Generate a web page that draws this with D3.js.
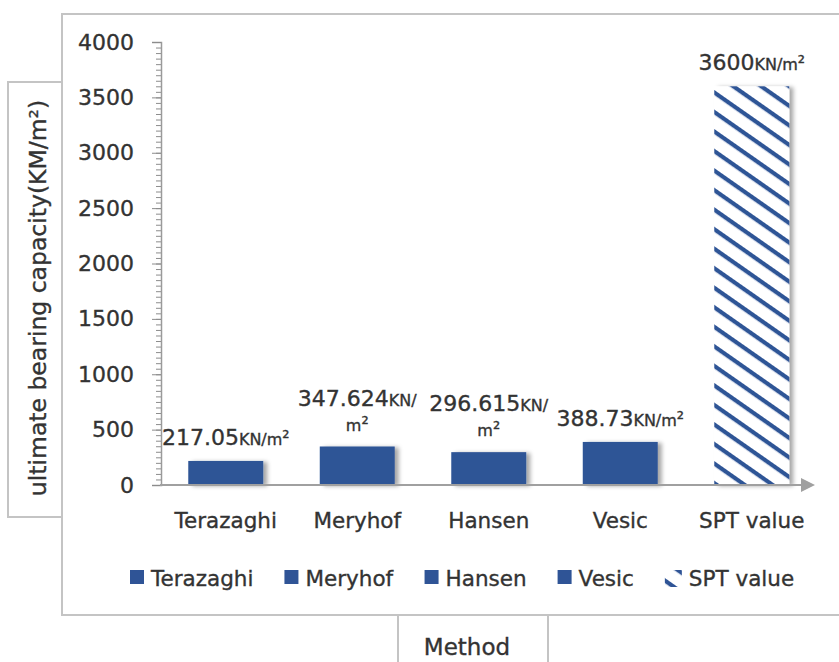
<!DOCTYPE html>
<html>
<head>
<meta charset="utf-8">
<script src="https://cdn.jsdelivr.net/npm/d3@7"></script>
<style>
  body { margin: 0; background: #fff; }
  text { font-family: "DejaVu Sans", sans-serif; fill: #333; stroke: #333; stroke-width: 0.35px; }
</style>
</head>
<body>
<svg id="drawing_region"></svg>
<script>
// chart data
const methods = ['Terazaghi', 'Meryhof', 'Hansen', 'Vesic', 'SPT value'];
const capacity = [217.05, 347.624, 296.615, 388.73, 3600];
const valueLabels = ['217.05', '347.624', '296.615', '388.73', '3600'];
const yTicks = [0, 500, 1000, 1500, 2000, 2500, 3000, 3500, 4000];
const unitText = 'KN/m';

const data = methods.map((m, i) => ({ method: m, value: capacity[i], label: valueLabels[i], hatched: m === 'SPT value' }));

const W = 839, H = 662;
const svg = d3.select('#drawing_region').attr('width', W).attr('height', H);
const defs = svg.append('defs');

// diagonal hatch for the SPT bar
const pat = defs.append('pattern')
    .attr('id', 'hatch')
    .attr('patternUnits', 'userSpaceOnUse')
    .attr('width', 16).attr('height', 16)
    .attr('patternTransform', 'rotate(35)');
pat.append('rect').attr('width', 16).attr('height', 16).attr('fill', '#fff');
pat.append('rect').attr('x', 0).attr('y', 0).attr('width', 16).attr('height', 4.2).attr('fill', '#2f5496');

const shadow = defs.append('filter').attr('id', 'shadow')
    .attr('x', '-20%').attr('y', '-20%').attr('width', '150%').attr('height', '150%');
shadow.append('feDropShadow')
    .attr('dx', 4).attr('dy', 1).attr('stdDeviation', 2)
    .attr('flood-color', '#000').attr('flood-opacity', 0.35);

const arrow = defs.append('marker').attr('id', 'arrow')
    .attr('viewBox', '0 0 10 10').attr('refX', 0).attr('refY', 5)
    .attr('markerUnits', 'userSpaceOnUse')
    .attr('markerWidth', 16).attr('markerHeight', 14).attr('orient', 'auto');
arrow.append('path').attr('d', 'M0,0 L10,5 L0,10 Z').attr('fill', '#a0a0a0');

// frames
svg.append('rect').attr('x', 62).attr('y', 14).attr('width', 800).attr('height', 601)
    .attr('fill', '#fff').attr('stroke', '#c4c4c4').attr('stroke-width', 2);
svg.append('rect').attr('x', 8).attr('y', 82).attr('width', 54).attr('height', 435)
    .attr('fill', '#fff').attr('stroke', '#c4c4c4').attr('stroke-width', 2);
svg.append('rect').attr('x', 398).attr('y', 615).attr('width', 150).attr('height', 60)
    .attr('fill', '#fff').attr('stroke', '#c4c4c4').attr('stroke-width', 2);

// scales
const x = d3.scaleBand().domain(methods).range([160, 817.5])
    .paddingInner(0.43).paddingOuter(0.215);
const y = d3.scaleLinear().domain([0, 4000]).range([485, 42]);

// minor ticks
svg.append('g').attr('transform', 'translate(161,0)')
    .call(d3.axisLeft(y).tickValues(d3.range(0, 4001, 50)).tickSize(5).tickFormat(''))
    .call(g => g.select('.domain').remove())
    .call(g => g.selectAll('line').attr('stroke', '#8c8c8c'));

// major ticks
svg.append('g').attr('transform', 'translate(161,0)')
    .call(d3.axisLeft(y).tickValues(yTicks).tickSize(9).tickPadding(18).tickFormat(d3.format('d')))
    .call(g => g.select('.domain').attr('stroke', '#9a9a9a').attr('stroke-width', 1.5))
    .call(g => g.selectAll('line').attr('stroke', '#8c8c8c'))
    .call(g => g.selectAll('text').style('font-size', '22px').attr('fill', null).attr('font-family', null));

// bars
svg.append('g').selectAll('rect')
    .data(data).enter().append('rect')
    .attr('x', d => x(d.method))
    .attr('y', d => y(d.value))
    .attr('width', x.bandwidth())
    .attr('height', d => y(0) - y(d.value))
    .attr('fill', d => d.hatched ? 'url(#hatch)' : '#2f5496')
    .attr('filter', 'url(#shadow)');

// x axis line with arrow
svg.append('line').attr('x1', 160).attr('x2', 801).attr('y1', 485).attr('y2', 485)
    .attr('stroke', '#a0a0a0').attr('stroke-width', 2).attr('marker-end', 'url(#arrow)');

// category labels
svg.append('g').attr('transform', 'translate(0,485)')
    .call(d3.axisBottom(x).tickSize(0).tickPadding(28))
    .call(g => g.select('.domain').remove())
    .call(g => g.selectAll('text').style('font-size', '21.5px').attr('fill', null).attr('font-family', null));

// value labels
const lbl = svg.append('g').selectAll('text')
    .data(data).enter().append('text')
    .attr('text-anchor', 'middle')
    .attr('x', d => x(d.method) + x.bandwidth() / 2)
    .attr('y', d => y(d.value) - 16);
lbl.each(function(d) {
    const t = d3.select(this);
    const wrap = d.label.length > 6;
    const cx = x(d.method) + x.bandwidth() / 2;
    if (wrap) {
        t.attr('y', y(d.value) - 16 - 25);
        t.append('tspan').style('font-size', '22px').text(d.label);
        t.append('tspan').style('font-size', '16px').text('KN/');
        t.append('tspan').attr('x', cx).attr('dy', 25).style('font-size', '16px').text('m');
        t.append('tspan').style('font-size', '18px').attr('dy', -1).text('²');
    } else {
        t.append('tspan').style('font-size', '22px').text(d.label);
        t.append('tspan').style('font-size', '16px').text(unitText);
        t.append('tspan').style('font-size', '18px').attr('dy', -1).text('²');
    }
});

// legend
const legend = svg.append('g').attr('transform', 'translate(0,578)');
const items = legend.selectAll('g').data(data).enter().append('g');
items.append('rect')
    .attr('y', -8).attr('width', d => d.hatched ? 17 : 14).attr('height', d => d.hatched ? 17 : 14)
    .attr('fill', d => d.hatched ? 'url(#hatch)' : '#2f5496');
items.append('text')
    .attr('x', d => d.hatched ? 24 : 21).attr('dy', '0.35em')
    .style('font-size', '21.5px')
    .text(d => d.method);
let lx = 130;
items.each(function() {
    const g = d3.select(this);
    g.attr('transform', `translate(${lx},0)`);
    lx += this.getBBox().width + 31;
});

// y axis title
svg.append('text')
    .attr('transform', 'translate(46,298) rotate(-90)')
    .attr('text-anchor', 'middle')
    .style('font-size', '23.5px')
    .text('ultimate bearing capacity(KM/m²)');

// x axis title
svg.append('text')
    .attr('x', 467).attr('y', 655)
    .attr('text-anchor', 'middle')
    .style('font-size', '23px')
    .text('Method');
</script>
</body>
</html>
